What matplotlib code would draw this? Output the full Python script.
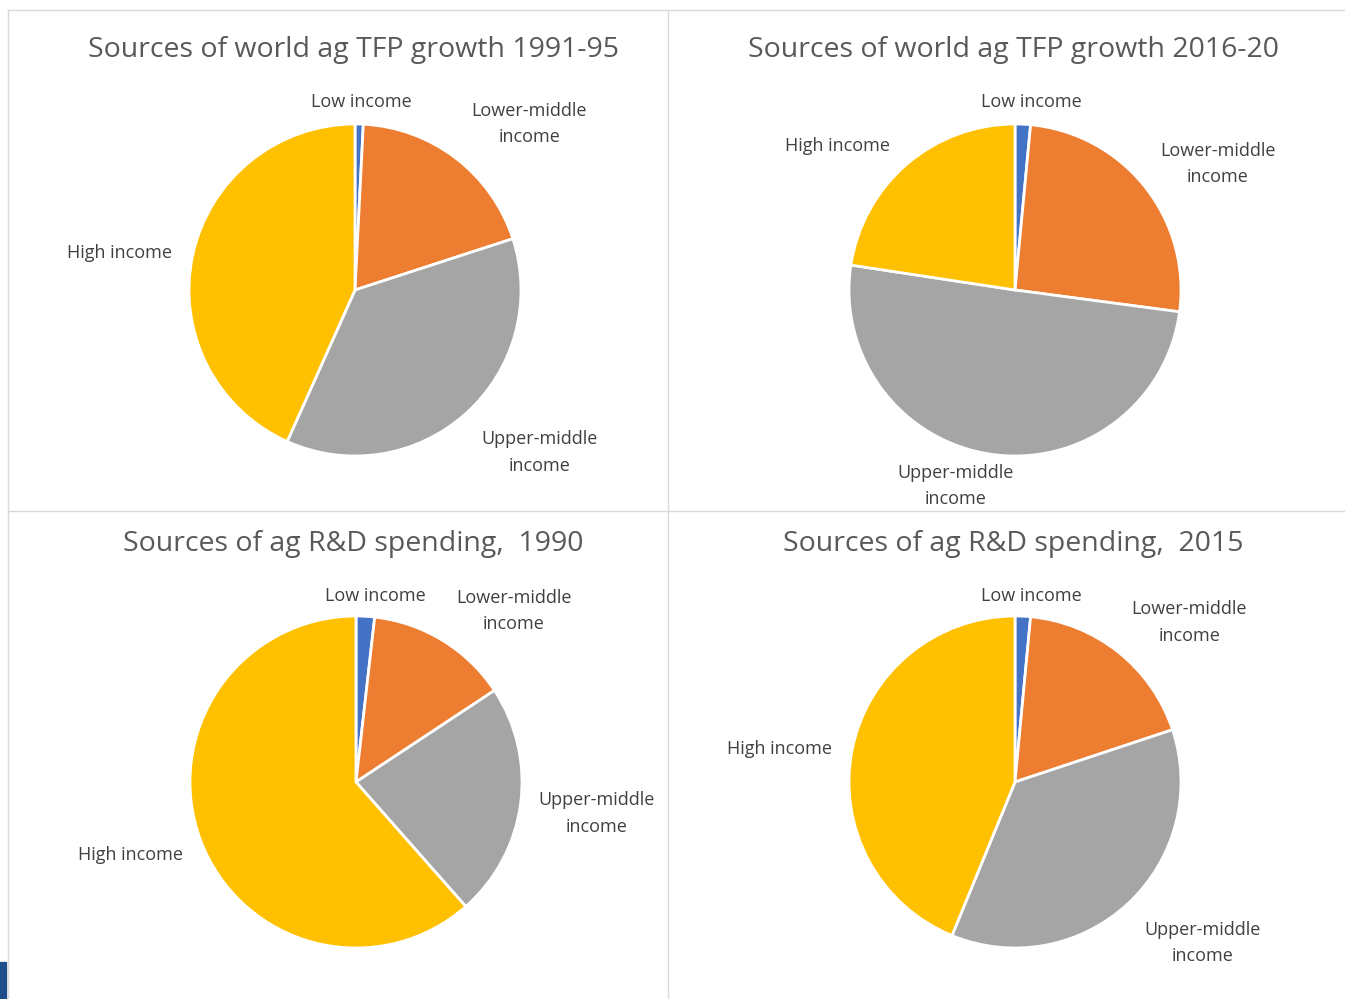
import matplotlib.pyplot as plt
from matplotlib.lines import Line2D
from matplotlib.patches import Rectangle

# Доли источников (в %), порядок: Low, Lower-middle, Upper-middle, High
groups = ['Low income', 'Lower-middle\nincome', 'Upper-middle\nincome', 'High income']
titles = ['Sources of world ag TFP growth 1991-95',
          'Sources of world ag TFP growth 2016-20',
          'Sources of ag R&D spending,  1990',
          'Sources of ag R&D spending,  2015']
tfp_1991_95 = [0.8, 19.2, 36.7, 43.3]
tfp_2016_20 = [1.5, 25.6, 50.3, 22.6]
rd_1990 = [1.8, 13.9, 22.8, 61.5]
rd_2015 = [1.5, 18.4, 36.3, 43.8]
colors = ['#4472C4', '#ED7D31', '#A5A5A5', '#FFC000']

W, H = 1345, 999
fig = plt.figure(figsize=(W / 100, H / 100), dpi=100)
plt.rcParams['font.family'] = ['Open Sans', 'DejaVu Sans']

# Центры пирогов и заголовков в пикселях
centers = [(355, 290), (1015, 290), (356, 782), (1015, 782)]
title_pos = [(353, 50), (1013, 50), (353, 544), (1013, 544)]
r = 166
# Положения подписей относительно центра (в радиусах)
label_pos = [
    [(0.036, 1.13), (1.05, 1.00), (1.11, -0.98), (-1.42, 0.22)],
    [(0.096, 1.13), (1.22, 0.76), (-0.36, -1.18), (-1.07, 0.87)],
    [(0.114, 1.12), (0.95, 1.03), (1.45, -0.19), (-1.36, -0.44)],
    [(0.10, 1.12), (1.05, 0.96), (1.13, -0.97), (-1.42, 0.20)],
]

for i, vals in enumerate([tfp_1991_95, tfp_2016_20, rd_1990, rd_2015]):
    cx, cy = centers[i]
    ax = fig.add_axes([(cx - r) / W, 1 - (cy + r) / H, 2 * r / W, 2 * r / H])
    ax.pie(vals, colors=colors, startangle=90, counterclock=False, radius=1,
           wedgeprops=dict(edgecolor='white', linewidth=2))
    ax.set_xlim(-1, 1)
    ax.set_ylim(-1, 1)
    ax.set_aspect('equal')
    ax.axis('off')
    tx, ty = title_pos[i]
    fig.text(tx / W, 1 - ty / H, titles[i], ha='center', va='center',
             fontsize=20.5, color='#595959')
    for name, (lx, ly) in zip(groups, label_pos[i]):
        fig.text((cx + lx * r) / W, 1 - (cy - ly * r) / H, name, ha='center',
                 va='center', fontsize=13, color='#404040', linespacing=1.6)

# Рамки панелей
grid = '#D9D9D9'
for line in [[(8, 8), (10, 999)], [(668, 668), (10, 999)], [(8, W), (10, 10)],
             [(8, W), (511, 511)]]:
    xs = [x / W for x in line[0]]
    ys = [1 - y / H for y in line[1]]
    fig.add_artist(Line2D(xs, ys, color=grid, linewidth=1))
fig.add_artist(Rectangle((0, 0), 6 / W, 37 / H, color='#1F4E8C'))

fig.savefig('out.png', dpi=100, facecolor='white')
